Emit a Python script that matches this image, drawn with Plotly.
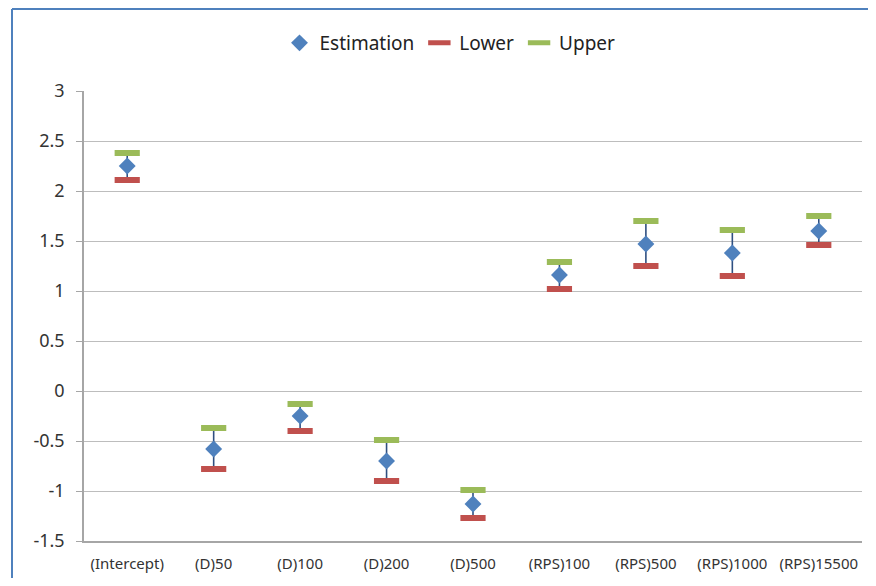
import plotly.graph_objects as go

categories = ["(Intercept)", "(D)50", "(D)100", "(D)200", "(D)500",
              "(RPS)100", "(RPS)500", "(RPS)1000", "(RPS)15500"]
estimation = [2.25, -0.58, -0.25, -0.70, -1.13, 1.16, 1.47, 1.38, 1.60]
lower = [2.11, -0.78, -0.40, -0.90, -1.27, 1.02, 1.25, 1.15, 1.46]
upper = [2.38, -0.37, -0.13, -0.49, -0.99, 1.29, 1.70, 1.61, 1.75]
y_tickvals = [3, 2.5, 2, 1.5, 1, 0.5, 0, -0.5, -1, -1.5]
y_ticktext = ["3", "2.5", "2", "1.5", "1", "0.5", "0", "-0.5", "-1", "-1.5"]

# high-low connector lines
lx, ly = [], []
for c, lo, hi in zip(categories, lower, upper):
    lx += [c, c, None]
    ly += [lo, hi, None]

fig = go.Figure()
fig.add_trace(go.Scatter(x=lx, y=ly, mode="lines", showlegend=False,
                         line=dict(color="#2F4F80", width=1.6), hoverinfo="skip"))
fig.add_trace(go.Scatter(x=categories, y=estimation, mode="markers", name="Estimation",
                         marker=dict(symbol="diamond", size=13, color="#4F81BD")))
fig.add_trace(go.Scatter(x=categories, y=lower, mode="markers", name="Lower",
                         marker=dict(symbol="line-ew", size=18, color="#C0504D",
                                     line=dict(color="#C0504D", width=6))))
fig.add_trace(go.Scatter(x=categories, y=upper, mode="markers", name="Upper",
                         marker=dict(symbol="line-ew", size=18, color="#9BBB59",
                                     line=dict(color="#9BBB59", width=6))))

# page has an 8px body margin; figure placed at (8, 8)
OFF = 8
W, H = 860, 570
l, r, t, b = 84 - OFF, 6, 91 - OFF, 37
pw, ph = W - l - r, H - t - b

def px(x):
    return (x - OFF - l) / pw

def py(y):
    return (H - b - (y - OFF)) / ph

fig.update_layout(
    width=W, height=H,
    margin=dict(l=l, r=r, t=t, b=b),
    paper_bgcolor="white", plot_bgcolor="white",
    font=dict(family="Noto Sans, Open Sans, sans-serif", size=15, color="#333333"),
    legend=dict(orientation="h", x=px(450), xanchor="center", y=py(43), yanchor="middle",
                font=dict(size=19, color="#222222"), itemwidth=30, tracegroupgap=0,
                bgcolor="rgba(0,0,0,0)"),
    xaxis=dict(range=[-0.5, len(categories) - 0.5],
               showline=True, linecolor="#a6a6a6", linewidth=1.5, showgrid=False,
               ticks="", tickfont=dict(size=15, color="#333333"), fixedrange=True,
               ticklabelstandoff=8),
    yaxis=dict(range=[-1.5, 3], tickvals=y_tickvals, ticktext=y_ticktext,
               showline=True, linecolor="#a6a6a6", linewidth=1.5,
               showgrid=True, gridcolor="#bdbdbd", gridwidth=1.3,
               zeroline=False, ticks="outside", ticklen=6, tickcolor="#a6a6a6",
               tickfont=dict(size=18, color="#333333"), ticklabelstandoff=8),
    shapes=[
        dict(type="line", xref="paper", yref="paper", x0=px(12), x1=px(880),
             y0=py(9), y1=py(9), line=dict(color="#4F81BD", width=2)),
        dict(type="line", xref="paper", yref="paper", x0=px(12), x1=px(12),
             y0=py(9), y1=py(590), line=dict(color="#4F81BD", width=2)),
    ],
)

fig.write_html("out.html")
